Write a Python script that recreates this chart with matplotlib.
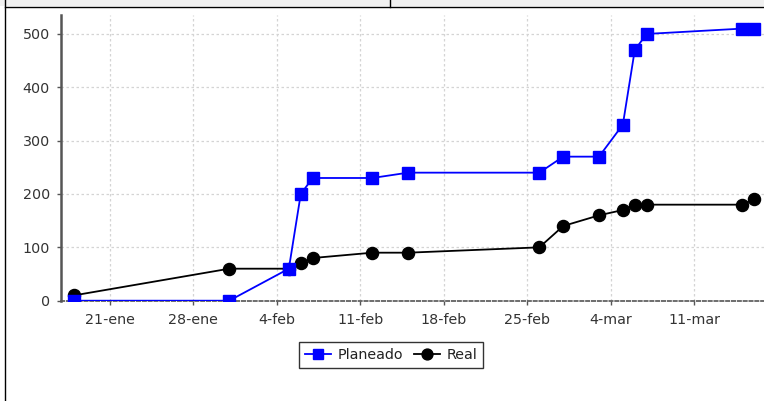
import matplotlib
matplotlib.use("Agg")
import matplotlib.pyplot as plt
import matplotlib.dates as mdates
from matplotlib.lines import Line2D
from matplotlib.patches import Rectangle
import numpy as np
import datetime as dt

# planned vs real progress
planeado_fechas = ['2013-01-18', '2013-01-31', '2013-02-05', '2013-02-06', '2013-02-07',
                   '2013-02-12', '2013-02-15', '2013-02-26', '2013-02-28', '2013-03-03',
                   '2013-03-05', '2013-03-06', '2013-03-07', '2013-03-15', '2013-03-16']
planeado = [0, 0, 60, 200, 230, 230, 240, 240, 270, 270, 330, 470, 500, 510, 510]

real_fechas = ['2013-01-18', '2013-01-31', '2013-02-05', '2013-02-06', '2013-02-07',
               '2013-02-12', '2013-02-15', '2013-02-26', '2013-02-28', '2013-03-03',
               '2013-03-05', '2013-03-06', '2013-03-07', '2013-03-15', '2013-03-16']
real = [10, 60, 60, 70, 80, 90, 90, 100, 140, 160, 170, 180, 180, 180, 190]

tick_fechas = ['2013-01-21', '2013-01-28', '2013-02-04', '2013-02-11',
               '2013-02-18', '2013-02-25', '2013-03-04', '2013-03-11']
tick_labels = ['21-ene', '28-ene', '4-feb', '11-feb', '18-feb', '25-feb', '4-mar', '11-mar']

def to_dates(lst):
    return [dt.datetime.strptime(s, '%Y-%m-%d') for s in lst]

W, H = 764, 401
fig = plt.figure(figsize=(W / 100, H / 100), dpi=100)
fig.patch.set_facecolor('white')

# plot area in pixel coords: left 61, top 15, bottom 300.7, right ~766
ax = fig.add_axes([61 / W, (H - 300.7) / H, (766 - 61) / W, (300.7 - 15) / H])
ax.set_facecolor('white')

ax.plot(to_dates(planeado_fechas), planeado, color='#0000ff', lw=1.3,
        marker='s', markersize=8, markeredgecolor='#0000ff', label='Planeado', zorder=4)
ax.plot(to_dates(real_fechas), real, color='black', lw=1.3,
        marker='o', markersize=8.7, label='Real', zorder=3)

d0 = mdates.date2num(dt.datetime(2013, 1, 21))
ax.set_xlim(d0 - 4.1, d0 + 55.0)
ax.set_ylim(0, 535.5)

ax.set_xticks(to_dates(tick_fechas))
ax.set_xticklabels(tick_labels)
ax.set_yticks(np.arange(0, 501, 100))

ax.grid(True, color='#d4d4d4', linestyle=(0, (2, 2)), lw=0.9)
ax.set_axisbelow(True)

for s in ['top', 'right']:
    ax.spines[s].set_visible(False)
ax.spines['left'].set_color('#555555')
ax.spines['left'].set_linewidth(1.8)
ax.spines['bottom'].set_color('#555555')
ax.spines['bottom'].set_linewidth(1.2)
ax.spines['bottom'].set_linestyle((0, (2, 1.5)))

ax.tick_params(axis='both', direction='out', length=3, width=1, color='#555555',
               labelsize=10.3, labelcolor='#333333')
ax.tick_params(axis='y', pad=5)
ax.tick_params(axis='x', pad=6)

leg = fig.legend(loc='center', bbox_to_anchor=(391 / W, (H - 355) / H), ncol=2,
                 fontsize=10.3, frameon=True, fancybox=False, edgecolor='black',
                 handlelength=1.8, handletextpad=0.45, columnspacing=0.8,
                 borderpad=0.45, markerscale=0.9)
leg.get_frame().set_linewidth(1.0)
for t in leg.get_texts():
    t.set_color('#222222')

# panel frame and header strip
fig.add_artist(Rectangle((0, (H - 6) / H), 1, 6 / H, transform=fig.transFigure,
                         facecolor='#f0f0f0', edgecolor='none'))
fig.add_artist(Line2D([4.5 / W, 1], [(H - 6.5) / H] * 2, transform=fig.transFigure,
                      color='black', lw=1))
fig.add_artist(Line2D([4.5 / W] * 2, [0, 1], transform=fig.transFigure, color='black', lw=1))
fig.add_artist(Line2D([389.5 / W] * 2, [(H - 6.5) / H, 1], transform=fig.transFigure,
                      color='black', lw=1))

fig.savefig('out.png', dpi=100)
